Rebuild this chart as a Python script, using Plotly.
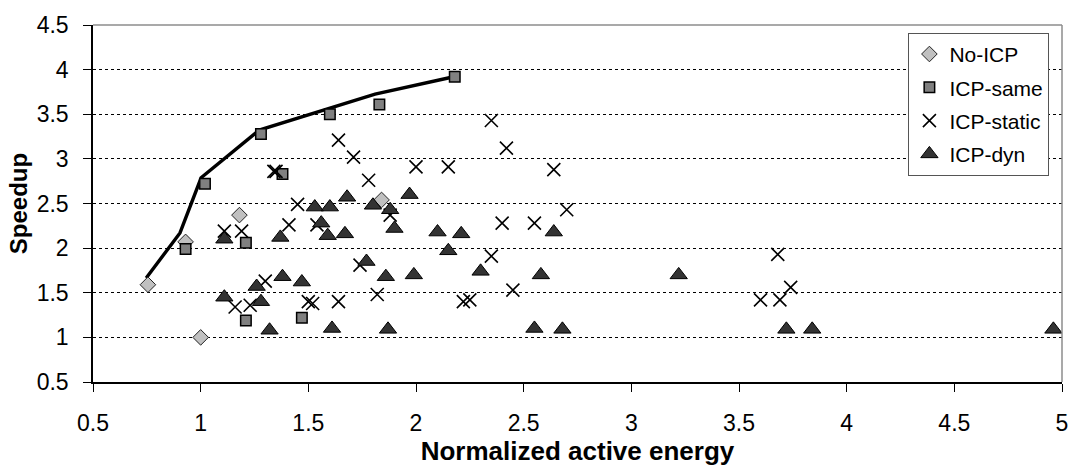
import plotly.graph_objects as go

# Normalized active energy (x) and speedup (y) per configuration
no_icp_x = [0.755, 0.93, 1.00, 1.18, 1.84]
no_icp_y = [1.59, 2.07, 1.00, 2.37, 2.54]

icp_same_x = [0.93, 1.02, 1.21, 1.21, 1.28, 1.38, 1.47, 1.60, 1.83, 2.18]
icp_same_y = [1.99, 2.72, 2.06, 1.19, 3.28, 2.83, 1.22, 3.50, 3.61, 3.92]

icp_static_x = [1.11, 1.19, 1.34, 1.35, 1.45, 1.41, 1.54, 1.64, 1.71, 1.78,
                2.00, 2.15, 2.35, 2.42, 2.64, 2.70, 1.88, 2.40, 2.55, 1.16,
                1.23, 1.30, 1.50, 1.52, 1.64, 1.82, 1.74, 2.22, 2.25, 2.35,
                2.45, 3.68, 3.60, 3.69, 3.74]
icp_static_y = [2.19, 2.19, 2.86, 2.86, 2.49, 2.26, 2.26, 3.21, 3.02, 2.76,
                2.91, 2.91, 3.43, 3.12, 2.88, 2.43, 2.37, 2.28, 2.28, 1.34,
                1.36, 1.63, 1.40, 1.38, 1.40, 1.48, 1.81, 1.40, 1.42, 1.91,
                1.53, 1.93, 1.42, 1.42, 1.56]

icp_dyn_x = [1.11, 1.11, 1.26, 1.28, 1.32, 1.38, 1.37, 1.47, 1.56, 1.59,
             1.67, 1.61, 1.53, 1.60, 1.68, 1.80, 1.88, 1.90, 1.77, 1.86,
             1.97, 2.10, 2.21, 2.64, 2.15, 1.99, 2.30, 2.58, 1.87, 2.55,
             2.68, 3.22, 3.72, 3.84, 4.96]
icp_dyn_y = [2.10, 1.45, 1.57, 1.40, 1.08, 1.68, 2.12, 1.62, 2.28, 2.14,
             2.16, 1.10, 2.46, 2.46, 2.57, 2.48, 2.43, 2.22, 1.85, 1.68,
             2.60, 2.18, 2.16, 2.18, 1.97, 1.70, 1.74, 1.70, 1.09, 1.10,
             1.09, 1.70, 1.09, 1.09, 1.09]

# Pareto frontier of the speedup/energy trade-off
frontier_x = [0.747, 0.904, 1.002, 1.272, 1.810, 2.160]
frontier_y = [1.665, 2.170, 2.788, 3.323, 3.725, 3.912]

x_ticks = [0.5, 1, 1.5, 2, 2.5, 3, 3.5, 4, 4.5, 5]
y_ticks = [0.5, 1, 1.5, 2, 2.5, 3, 3.5, 4, 4.5]

FONT = "Liberation Sans, Arial, sans-serif"

fig = go.Figure()

fig.add_trace(go.Scatter(
    x=frontier_x, y=frontier_y, mode="lines",
    line=dict(color="black", width=3.4),
    showlegend=False, hoverinfo="skip",
))

fig.add_trace(go.Scatter(
    x=no_icp_x, y=no_icp_y, mode="markers", name="No-ICP", legendgroup="a",
    marker=dict(symbol="diamond", size=12, color="#C0C0C0",
                line=dict(color="#222222", width=1)),
))
fig.add_trace(go.Scatter(
    x=icp_same_x, y=icp_same_y, mode="markers", name="ICP-same", legendgroup="b",
    marker=dict(symbol="square", size=10.5, color="#808080",
                line=dict(color="black", width=1.5)),
))
fig.add_trace(go.Scatter(
    x=icp_static_x, y=icp_static_y, mode="markers", name="ICP-static", legendgroup="c",
    marker=dict(symbol="x-thin", size=13, color="black",
                line=dict(color="black", width=1.6)),
))
fig.add_trace(go.Scatter(
    x=icp_dyn_x, y=icp_dyn_y, mode="markers", name="ICP-dyn", legendgroup="d",
    marker=dict(symbol="triangle-up", size=15, color="#333333",
                line=dict(color="black", width=1)),
))

fig.update_layout(
    width=1080, height=467,
    margin=dict(l=93, r=15, t=16, b=83),
    paper_bgcolor="white", plot_bgcolor="white",
    font=dict(family=FONT, color="black", size=23),
    xaxis=dict(
        range=[0.5, 5], tickvals=x_ticks, ticktext=[f"{v:g}" for v in x_ticks],
        showgrid=False, zeroline=False,
        showline=True, linecolor="black", linewidth=1.5,
        ticks="outside", ticklen=8, tickwidth=1, tickcolor="black",
        ticklabelstandoff=12,
        tickfont=dict(size=23),
        title=dict(text="<b>Normalized active energy</b>",
                   font=dict(size=26), standoff=0),
    ),
    yaxis=dict(
        range=[0.5, 4.5], tickvals=y_ticks, ticktext=[f"{v:g}" for v in y_ticks],
        showgrid=True, gridcolor="black", gridwidth=1, griddash="dot",
        zeroline=False,
        showline=True, linecolor="black", linewidth=1.5,
        ticks="outside", ticklen=8, tickwidth=1, tickcolor="black",
        ticklabelstandoff=10,
        tickfont=dict(size=23),
        title=dict(text="<b>Speedup</b>", font=dict(size=24), standoff=2),
    ),
    legend=dict(
        x=0.987, y=0.978, xanchor="right", yanchor="top",
        bgcolor="white", bordercolor="#555555", borderwidth=1,
        font=dict(size=21), traceorder="grouped", tracegroupgap=3,
        itemwidth=30,
    ),
    shapes=[
        dict(type="line", xref="paper", yref="paper", x0=0, x1=1, y0=1, y1=1,
             line=dict(color="#8c8c8c", width=1.5)),
        dict(type="line", xref="paper", yref="paper", x0=1, x1=1, y0=0, y1=1,
             line=dict(color="#8c8c8c", width=1.5)),
    ],
)

fig.write_html("out.html")
